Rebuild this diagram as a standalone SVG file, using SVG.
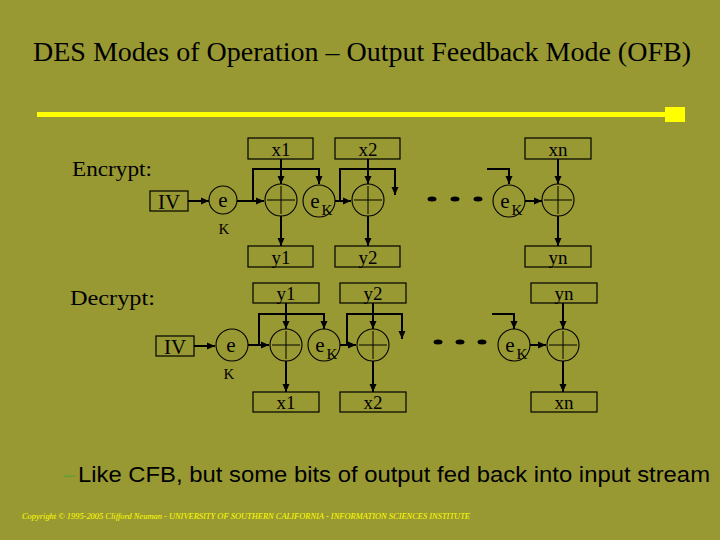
<svg xmlns="http://www.w3.org/2000/svg" width="720" height="540" viewBox="0 0 720 540">
<defs>
<marker id="ah" markerUnits="userSpaceOnUse" markerWidth="9" markerHeight="8" refX="8" refY="4" orient="auto">
<path d="M0,0.5 L8,4 L0,7.5 Z" fill="#000"/>
</marker>
<style>
.bx{fill:none;stroke:#000;stroke-width:1.2}
.cr{fill:none;stroke:#000;stroke-width:1.1}
.ar{fill:none;stroke:#000;stroke-width:2;marker-end:url(#ah)}
.pl{stroke:#000;stroke-width:1}
.t{font-family:"Liberation Serif","Times New Roman",serif;fill:#000;text-anchor:middle}
.bt{font-size:19px}
.dot{fill:#000}
</style>
</defs>
<rect x="0" y="0" width="720" height="540" fill="#999933"/>
<text x="362" y="61" class="t" style="font-size:28px">DES Modes of Operation – Output Feedback Mode (OFB)</text>
<rect x="37" y="112" width="630" height="5" fill="#ffff00"/>
<rect x="665" y="107" width="20" height="15" fill="#ffff00"/>
<text x="72" y="176" style="font-family:'Liberation Serif',serif;font-size:22px" textLength="80" lengthAdjust="spacingAndGlyphs">Encrypt:</text>
<text x="70" y="305" style="font-family:'Liberation Serif',serif;font-size:22px" textLength="85" lengthAdjust="spacingAndGlyphs">Decrypt:</text>

<g id="connectors">
<line class="ar" x1="188" y1="201" x2="209" y2="201"/>
<line class="ar" x1="237" y1="201" x2="264" y2="201"/>
<polyline class="ar" points="253,201 253,169 319,169 319,184"/>
<line class="ar" x1="281" y1="159" x2="281" y2="184"/>
<line class="ar" x1="335" y1="201" x2="351" y2="201"/>
<polyline class="ar" points="340,201 340,169 395,169 395,195"/>
<line class="ar" x1="368" y1="159" x2="368" y2="184"/>
<polyline class="ar" points="487,169 509,169 509,184"/>
<line class="ar" x1="525" y1="201" x2="542" y2="201"/>
<line class="ar" x1="558" y1="159" x2="558" y2="184"/>
<line class="ar" x1="281" y1="216" x2="281" y2="246"/>
<line class="ar" x1="368" y1="216" x2="368" y2="246"/>
<line class="ar" x1="558" y1="216" x2="558" y2="246"/>

<line class="ar" x1="194" y1="346" x2="215" y2="346"/>
<line class="ar" x1="248" y1="345" x2="269" y2="345"/>
<polyline class="ar" points="259,345 259,314 324,314 324,329"/>
<line class="ar" x1="286" y1="303" x2="286" y2="329"/>
<line class="ar" x1="286" y1="361" x2="286" y2="392"/>
<line class="ar" x1="340" y1="345" x2="356" y2="345"/>
<polyline class="ar" points="347,345 347,314 402,314 402,339"/>
<line class="ar" x1="373" y1="303" x2="373" y2="329"/>
<line class="ar" x1="373" y1="361" x2="373" y2="392"/>
<polyline class="ar" points="492,314 514,314 514,329"/>
<line class="ar" x1="530" y1="345" x2="546" y2="345"/>
<line class="ar" x1="563" y1="303" x2="563" y2="329"/>
<line class="ar" x1="563" y1="361" x2="563" y2="392"/>
</g>

<g id="enc-iv"><rect class="bx" x="150" y="191" width="38" height="20"/><text class="t" x="169" y="209" style="font-size:21px">IV</text></g>
<g id="enc-e"><circle class="cr" cx="223" cy="200" r="14"/><text class="t" x="223" y="207" style="font-size:21px">e</text><text class="t" x="224" y="234" style="font-size:15px">K</text></g>
<g id="enc-x1"><rect class="bx" x="248" y="138" width="65" height="21"/><text class="t bt" x="281" y="156">x1</text></g>
<g id="enc-p1"><circle class="cr" cx="281" cy="200" r="16"/><line class="pl" x1="267" y1="200" x2="295" y2="200"/><line class="pl" x1="281" y1="186" x2="281" y2="214"/></g>
<g id="enc-ek1"><circle class="cr" cx="319" cy="201" r="16"/><text class="t" x="315" y="208" style="font-size:21px">e</text><text class="t" x="327" y="215" style="font-size:15px">K</text></g>
<g id="enc-x2"><rect class="bx" x="335" y="138" width="65" height="21"/><text class="t bt" x="368" y="156">x2</text></g>
<g id="enc-p2"><circle class="cr" cx="368" cy="200" r="16"/><line class="pl" x1="354" y1="200" x2="382" y2="200"/><line class="pl" x1="368" y1="186" x2="368" y2="214"/></g>
<g id="enc-dots"><ellipse class="dot" cx="432" cy="199" rx="4.5" ry="2.5"/><ellipse class="dot" cx="455" cy="199" rx="4.5" ry="2.5"/><ellipse class="dot" cx="478" cy="199" rx="4.5" ry="2.5"/></g>
<g id="enc-ekn"><circle class="cr" cx="509" cy="201" r="16"/><text class="t" x="505" y="208" style="font-size:21px">e</text><text class="t" x="517" y="215" style="font-size:15px">K</text></g>
<g id="enc-xn"><rect class="bx" x="525" y="138" width="66" height="21"/><text class="t bt" x="558" y="156">xn</text></g>
<g id="enc-pn"><circle class="cr" cx="558" cy="200" r="16"/><line class="pl" x1="544" y1="200" x2="572" y2="200"/><line class="pl" x1="558" y1="186" x2="558" y2="214"/></g>
<g id="enc-y1"><rect class="bx" x="248" y="246" width="65" height="21"/><text class="t bt" x="281" y="264">y1</text></g>
<g id="enc-y2"><rect class="bx" x="335" y="246" width="65" height="21"/><text class="t bt" x="368" y="264">y2</text></g>
<g id="enc-yn"><rect class="bx" x="525" y="246" width="66" height="21"/><text class="t bt" x="558" y="264">yn</text></g>

<g id="dec-y1"><rect class="bx" x="253" y="283" width="66" height="20"/><text class="t bt" x="286" y="300">y1</text></g>
<g id="dec-y2"><rect class="bx" x="340" y="283" width="66" height="20"/><text class="t bt" x="373" y="300">y2</text></g>
<g id="dec-yn"><rect class="bx" x="531" y="283" width="66" height="20"/><text class="t bt" x="564" y="300">yn</text></g>
<g id="dec-iv"><rect class="bx" x="156" y="336" width="38" height="20"/><text class="t" x="175" y="354" style="font-size:21px">IV</text></g>
<g id="dec-e"><circle class="cr" cx="232" cy="345" r="16"/><text class="t" x="231" y="352" style="font-size:21px">e</text><text class="t" x="229" y="379" style="font-size:15px">K</text></g>
<g id="dec-p1"><circle class="cr" cx="286" cy="345" r="16"/><line class="pl" x1="272" y1="345" x2="300" y2="345"/><line class="pl" x1="286" y1="331" x2="286" y2="359"/></g>
<g id="dec-ek1"><circle class="cr" cx="324" cy="345" r="16"/><text class="t" x="320" y="352" style="font-size:21px">e</text><text class="t" x="332" y="359" style="font-size:15px">K</text></g>
<g id="dec-p2"><circle class="cr" cx="373" cy="345" r="16"/><line class="pl" x1="359" y1="345" x2="387" y2="345"/><line class="pl" x1="373" y1="331" x2="373" y2="359"/></g>
<g id="dec-dots"><ellipse class="dot" cx="438" cy="342" rx="4.5" ry="2.5"/><ellipse class="dot" cx="460" cy="342" rx="4.5" ry="2.5"/><ellipse class="dot" cx="482" cy="342" rx="4.5" ry="2.5"/></g>
<g id="dec-ekn"><circle class="cr" cx="514" cy="345" r="16"/><text class="t" x="510" y="352" style="font-size:21px">e</text><text class="t" x="522" y="359" style="font-size:15px">K</text></g>
<g id="dec-pn"><circle class="cr" cx="563" cy="345" r="16"/><line class="pl" x1="549" y1="345" x2="577" y2="345"/><line class="pl" x1="563" y1="331" x2="563" y2="359"/></g>
<g id="dec-x1"><rect class="bx" x="253" y="392" width="66" height="20"/><text class="t bt" x="286" y="409">x1</text></g>
<g id="dec-x2"><rect class="bx" x="340" y="392" width="66" height="20"/><text class="t bt" x="373" y="409">x2</text></g>
<g id="dec-xn"><rect class="bx" x="531" y="392" width="66" height="20"/><text class="t bt" x="564" y="409">xn</text></g>

<text x="63" y="482" style="font-family:'Liberation Sans',Arial,sans-serif;font-size:22px" fill="#66a033">–</text>
<text x="78" y="482" style="font-family:'Liberation Sans',Arial,sans-serif;font-size:22px" fill="#000" textLength="632" lengthAdjust="spacingAndGlyphs">Like CFB, but some bits of output fed back into input stream</text>
<text x="22" y="519" style="font-family:'Liberation Serif',serif;font-size:9px;font-style:italic" fill="#ffff00" textLength="448" lengthAdjust="spacingAndGlyphs">Copyright © 1995-2005 Clifford Neuman - UNIVERSITY OF SOUTHERN CALIFORNIA - INFORMATION SCIENCES INSTITUTE</text>
</svg>
